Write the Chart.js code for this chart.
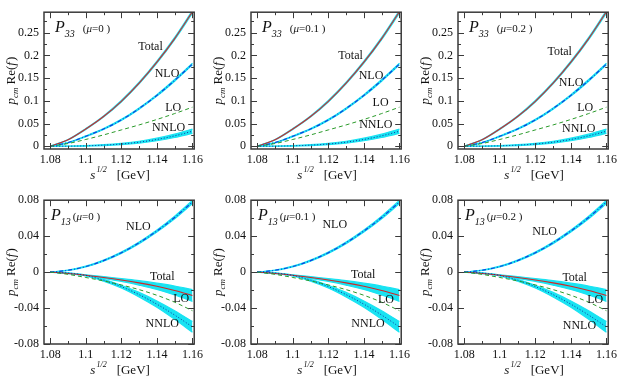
<!DOCTYPE html>
<html><head><meta charset="utf-8">
<script src="https://cdn.jsdelivr.net/npm/chart.js@4.4.0/dist/chart.umd.min.js"></script>
<style>
html,body{margin:0;padding:0;background:#fff;}
body{width:627px;height:377px;position:relative;overflow:hidden;}
canvas{position:absolute;}
</style></head><body>
<script>
// ---------------- data ----------------
const energy = [1.08, 1.09, 1.10, 1.11, 1.12, 1.13, 1.14, 1.15, 1.16];

const p33LO       = [0, 0.006, 0.015, 0.025, 0.036, 0.047, 0.059, 0.072, 0.086];
const p33NLO      = [0, 0.008, 0.022, 0.038, 0.058, 0.083, 0.112, 0.145, 0.181];
const p33NNLO     = [0, 0.0003, 0.001, 0.0025, 0.005, 0.009, 0.015, 0.023, 0.033];
const p33Total    = [0, 0.0143, 0.038, 0.0655, 0.099, 0.139, 0.185, 0.237, 0.296];
const p33TotalErr = [0, 0.0005, 0.001, 0.0013, 0.0016, 0.0019, 0.0022, 0.0025, 0.003];
const p33NLOErr   = [0, 0.0004, 0.0008, 0.001, 0.0012, 0.0014, 0.0016, 0.0018, 0.002];
const p33NNLOErr  = [0, 0.0003, 0.0006, 0.001, 0.0015, 0.002, 0.0028, 0.0037, 0.0048];

const p13LO       = [0, -0.0025, -0.006, -0.0098, -0.0143, -0.0195, -0.0258, -0.0335, -0.043];
const p13NLO      = [0, 0.002, 0.0062, 0.0128, 0.0216, 0.0326, 0.0457, 0.0608, 0.078];
const p13NNLO     = [0, -0.001, -0.0037, -0.009, -0.0161, -0.0251, -0.0357, -0.0478, -0.061];
const p13Total    = [0, -0.0015, -0.0035, -0.006, -0.0088, -0.012, -0.0158, -0.0205, -0.026];
const p13TotalErr = [0, 0.0002, 0.0005, 0.001, 0.0015, 0.0025, 0.0035, 0.005, 0.0065];
const p13NLOErr   = [0, 0.0002, 0.0004, 0.0006, 0.0008, 0.001, 0.0012, 0.0015, 0.0018];
const p13NNLOErr  = [0, 0.0002, 0.0005, 0.001, 0.0015, 0.0025, 0.0035, 0.0048, 0.006];

const muValues = ['0', '0.1', '0.2'];

const xTicks      = [1.08, 1.10, 1.12, 1.14, 1.16];
const xTickLabels = ['1.08', '1.1', '1.12', '1.14', '1.16'];
const xMinor      = [1.09, 1.11, 1.13, 1.15];

const p33YTicks      = [0, 0.05, 0.1, 0.15, 0.2, 0.25];
const p33YTickLabels = ['0', '0.05', '0.1', '0.15', '0.2', '0.25'];
const p33YMinor      = [0.025, 0.075, 0.125, 0.175, 0.225, 0.275];

const p13YTicks      = [-0.08, -0.04, 0, 0.04, 0.08];
const p13YTickLabels = ['-0.08', '-0.04', '0', '0.04', '0.08'];
const p13YMinor      = [-0.06, -0.02, 0.02, 0.06];

// curve label anchors (data coordinates) per panel
const p33LabelPos = [
  {Total:[1.1364,0.219], NLO:[1.1457,0.159], LO:[1.1492,0.084], NNLO:[1.1466,0.041]},
  {Total:[1.1325,0.200], NLO:[1.1440,0.154], LO:[1.1494,0.0957], NNLO:[1.1467,0.0465]},
  {Total:[1.1337,0.207], NLO:[1.1401,0.139], LO:[1.1481,0.084], NNLO:[1.1444,0.039]}
];
const p13LabelPos = [
  {NLO:[1.1296,0.050], Total:[1.1430,-0.0054], LO:[1.1537,-0.030], NNLO:[1.1430,-0.058]},
  {NLO:[1.1236,0.053], Total:[1.1396,-0.003], LO:[1.1524,-0.031], NNLO:[1.1423,-0.058]},
  {NLO:[1.1252,0.0447], Total:[1.1421,-0.0061], LO:[1.1537,-0.031], NNLO:[1.1448,-0.060]}
];

// ---------------- layout / style ----------------
const FONT = "'Liberation Serif','Times New Roman',serif";
const COL_LEFT = [44, 251, 458];
const PLOT_W = 158;
const CANVAS_W = 207;
const ROWS = [
  {canvasTop:0,   canvasH:185, areaTop:2, areaBottom:149},
  {canvasTop:188, canvasH:189, areaTop:7, areaBottom:156}
];
const CYAN = '#19e3f2';

function pts(vals, err, sign) {
  return energy.map((x, i) => ({x: x, y: vals[i] + (err ? sign * err[i] : 0)}));
}

function richWidth(ctx, parts) {
  let w = 0;
  parts.forEach(p => { ctx.font = p.f; w += ctx.measureText(p.t).width + (p.gap || 0); });
  return w;
}
function drawRich(ctx, parts, x, y) {
  let cx = x;
  parts.forEach(p => {
    ctx.font = p.f;
    ctx.fillText(p.t, cx, y + (p.dy || 0));
    cx += ctx.measureText(p.t).width + (p.gap || 0);
  });
}

function makePanel(row, col, d) {
  const R = ROWS[row];
  const cv = document.createElement('canvas');
  cv.width = CANVAS_W; cv.height = R.canvasH;
  cv.style.left = (COL_LEFT[col] - 44) + 'px';
  cv.style.top = R.canvasTop + 'px';
  cv.style.width = CANVAS_W + 'px'; cv.style.height = R.canvasH + 'px';
  document.body.appendChild(cv);

  const bandDs = (vals, err, sign, fill) => ({
    data: pts(vals, err, sign), borderColor: CYAN, borderWidth: 1.2,
    backgroundColor: CYAN, fill: fill, pointRadius: 0,
    cubicInterpolationMode: 'monotone', order: 10
  });
  const lineDs = (vals, color, dash, w) => ({
    data: pts(vals), borderColor: color, borderWidth: w, borderDash: dash,
    fill: false, pointRadius: 0, cubicInterpolationMode: 'monotone', order: 0
  });

  const datasets = [
    bandDs(d.total, d.totalErr, 1, '+1'), bandDs(d.total, d.totalErr, -1, false),
    bandDs(d.nlo, d.nloErr, 1, '+1'), bandDs(d.nlo, d.nloErr, -1, false),
    bandDs(d.nnlo, d.nnloErr, 1, '+1'), bandDs(d.nnlo, d.nnloErr, -1, false),
    lineDs(d.lo, '#2a9a2a', [4, 3], 1),
    lineDs(d.nnlo, '#1030a0', [1, 2], 1),
    lineDs(d.nlo, '#1040e0', [4, 2, 1, 2], 1.2),
    lineDs(d.total, '#d02828', [], 1.1)
  ];

  const decor = {
    id: 'decor',
    afterDraw(chart) {
      const ctx = chart.ctx, a = chart.chartArea;
      const xs = chart.scales.x, ys = chart.scales.y;
      ctx.save();
      // frame
      ctx.strokeStyle = '#3a3a3a'; ctx.lineWidth = 1.5;
      ctx.strokeRect(a.left, a.top, a.right - a.left, a.bottom - a.top);
      ctx.lineWidth = 1;
      const tick = (v, len, axis) => {
        ctx.beginPath();
        if (axis === 'x') {
          const px = Math.round(xs.getPixelForValue(v)) + 0.5;
          ctx.moveTo(px, a.bottom); ctx.lineTo(px, a.bottom - len);
          ctx.moveTo(px, a.top); ctx.lineTo(px, a.top + len);
        } else {
          const py = Math.round(ys.getPixelForValue(v)) + 0.5;
          ctx.moveTo(a.left, py); ctx.lineTo(a.left + len, py);
          ctx.moveTo(a.right, py); ctx.lineTo(a.right - len, py);
        }
        ctx.stroke();
      };
      xTicks.forEach(v => tick(v, 6, 'x'));
      xMinor.forEach(v => tick(v, 3, 'x'));
      d.yTicks.forEach(v => tick(v, 6, 'y'));
      d.yMinor.forEach(v => tick(v, 3, 'y'));

      ctx.fillStyle = '#111';
      ctx.textBaseline = 'alphabetic';
      // curve labels
      ctx.font = '12px ' + FONT; ctx.textAlign = 'center'; ctx.textBaseline = 'middle';
      Object.keys(d.labels).forEach(k => {
        const p = d.labels[k];
        ctx.fillText(k, xs.getPixelForValue(p[0]), ys.getPixelForValue(p[1]));
      });
      ctx.textAlign = 'left'; ctx.textBaseline = 'alphabetic';

      // panel title
      const tparts = [
        {t: 'P', f: 'italic 16px ' + FONT},
        {t: d.wave, f: 'italic 10px ' + FONT, dy: 5, gap: d.titleGap},
        {t: '(', f: '11px ' + FONT},
        {t: 'μ', f: 'italic 11px ' + FONT},
        {t: '=' + d.mu + ' )', f: '11px ' + FONT}
      ];
      drawRich(ctx, tparts, a.left + d.titleDx, a.top + 20);

      // x axis title
      const xparts = [
        {t: 's', f: 'italic 13px ' + FONT, gap: 1},
        {t: '1/2', f: 'italic 8px ' + FONT, dy: -7, gap: 10},
        {t: '[GeV]', f: '13px ' + FONT}
      ];
      const xw = richWidth(ctx, xparts);
      drawRich(ctx, xparts, (a.left + a.right) / 2 - xw / 2 + 1, a.bottom + 30);

      // y axis title (rotated)
      const yparts = [
        {t: 'p', f: 'italic 13px ' + FONT},
        {t: 'cm', f: 'italic 9px ' + FONT, dy: 3, gap: 3},
        {t: 'Re(', f: '13px ' + FONT},
        {t: 'f', f: 'italic 13px ' + FONT, gap: 1},
        {t: ')', f: '13px ' + FONT}
      ];
      const yw = richWidth(ctx, yparts);
      ctx.translate(a.left - 29, (a.top + a.bottom) / 2);
      ctx.rotate(-Math.PI / 2);
      drawRich(ctx, yparts, -yw / 2, 0);
      ctx.restore();
    }
  };

  new Chart(cv, {
    type: 'line',
    data: {datasets: datasets},
    options: {
      responsive: false, animation: false, devicePixelRatio: 1,
      layout: {padding: {top: R.areaTop, right: CANVAS_W - 44 - PLOT_W, left: 0, bottom: 0}},
      plugins: {legend: {display: false}, tooltip: {enabled: false}},
      scales: {
        x: {
          type: 'linear', min: 1.0765, max: 1.161,
          grid: {display: false, drawTicks: false}, border: {display: false},
          afterBuildTicks: s => { s.ticks = xTicks.map(v => ({value: v})); },
          afterFit: s => { s.height = R.canvasH - R.areaBottom; },
          ticks: {autoSkip: false, maxRotation: 0, padding: 4, color: '#111',
                  font: {family: FONT, size: 12},
                  callback: (v, i) => xTickLabels[i]}
        },
        y: {
          type: 'linear', min: d.yMin, max: d.yMax,
          grid: {display: false, drawTicks: false}, border: {display: false},
          afterBuildTicks: s => { s.ticks = d.yTicks.map(v => ({value: v})); },
          afterFit: s => { s.width = 44; },
          ticks: {autoSkip: false, padding: 5, color: '#111',
                  font: {family: FONT, size: 12},
                  callback: (v, i) => d.yLabels[i]}
        }
      }
    },
    plugins: [decor]
  });
}

for (let c = 0; c < 3; c++) {
  makePanel(0, c, {
    lo: p33LO, nlo: p33NLO, nnlo: p33NNLO, total: p33Total,
    totalErr: p33TotalErr, nloErr: p33NLOErr, nnloErr: p33NNLOErr,
    yMin: -0.006, yMax: 0.295, yTicks: p33YTicks, yLabels: p33YTickLabels, yMinor: p33YMinor,
    labels: p33LabelPos[c], wave: '33', mu: muValues[c], titleDx: 11, titleGap: 8
  });
  makePanel(1, c, {
    lo: p13LO, nlo: p13NLO, nnlo: p13NNLO, total: p13Total,
    totalErr: p13TotalErr, nloErr: p13NLOErr, nnloErr: p13NNLOErr,
    yMin: -0.08, yMax: 0.08, yTicks: p13YTicks, yLabels: p13YTickLabels, yMinor: p13YMinor,
    labels: p13LabelPos[c], wave: '13', mu: muValues[c], titleDx: 7, titleGap: 2
  });
}
</script>
</body></html>
